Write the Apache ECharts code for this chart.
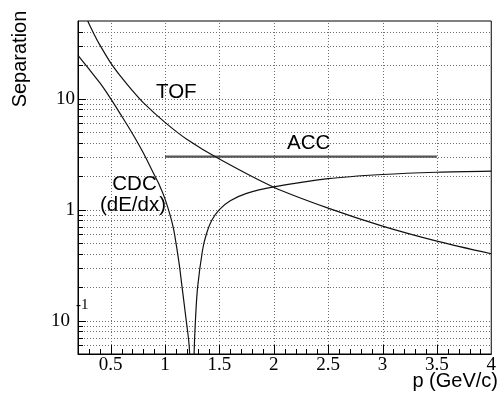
<!DOCTYPE html>
<html><head><meta charset="utf-8">
<script src="https://cdn.jsdelivr.net/npm/echarts@6/dist/echarts.min.js"></script>
<style>html,body{margin:0;padding:0;background:#fff}#c{width:499px;height:394px}</style>
</head><body><div id="c"></div>
<script>
// ---- axis ranges ----
const X_MIN = 0.2, X_MAX = 4, Y_MIN = 0.05, Y_MAX = 50;

// ---- TOF separation ----
const tofP = [0.29, 0.30, 0.35, 0.40, 0.50, 0.60, 0.70, 0.80, 1.00, 1.20, 1.50, 2.00, 2.50, 3.00, 3.50, 4.00];
const tofS = [50, 47.4, 37.6, 30.5, 21.0, 15.5, 11.8, 9.2, 6.1, 4.3, 2.85, 1.59, 1.03, 0.71, 0.52, 0.40];

// ---- CDC dE/dx separation ----
const cdcP = [0.20, 0.30, 0.40, 0.50, 0.60, 0.70, 0.80, 0.90, 0.95, 1.00, 1.05, 1.08, 1.11, 1.135, 1.157, 1.19, 1.225, 1.258, 1.268, 1.282, 1.30, 1.345, 1.38, 1.43, 1.50, 1.60, 1.75, 2.00, 2.50, 3.00, 3.50, 4.00];
const cdcS = [24.5, 18.5, 13.9, 10.0, 7.0, 4.85, 3.25, 2.07, 1.65, 1.25, 0.87, 0.66, 0.44, 0.30, 0.20, 0.11, 0.054, 0.002, 0.05, 0.11, 0.20, 0.43, 0.60, 0.80, 1.00, 1.20, 1.40, 1.60, 1.90, 2.07, 2.17, 2.22];

// ---- ACC separation ----
const accP = [1.0, 3.5];
const accS = [3.0, 3.0];

// ---- tick / grid values ----
const xMajor = [0.5, 1.0, 1.5, 2.0, 2.5, 3.0, 3.5];
const xLabels = ['0.5', '1', '1.5', '2', '2.5', '3', '3.5', '4'];
const xMinor = [];
for (let k = 3; k < 40; k++) { if (k % 5 !== 0) xMinor.push(k / 10); }
const yMajor = [0.1, 1, 10];
const yMinor = [];
[0.01, 0.1, 1, 10].forEach(d => { for (let m = 2; m <= 9; m++) { const v = +(m * d).toPrecision(3); if (v > Y_MIN && v < Y_MAX) yMinor.push(v); } });
const yGrid = yMinor.concat(yMajor);

const crisp = v => Math.round(v) + 0.5;
const GRID_STYLE = { stroke: '#6e6e6e', lineWidth: 1, lineDash: [1, 2] };

const chart = echarts.init(document.getElementById('c'), null, { renderer: 'canvas' });

const option = {
  animation: false,
  backgroundColor: '#fff',
  grid: { left: 78, right: 4, top: 21, bottom: 40, show: true, borderColor: '#000', borderWidth: 1, backgroundColor: 'transparent' },
  xAxis: {
    type: 'value', min: X_MIN, max: X_MAX, interval: 0.1,
    axisLine: { show: true, onZero: false, lineStyle: { color: '#000', width: 1 } },
    axisTick: { show: false }, splitLine: { show: false },
    axisLabel: {
      margin: 2, color: '#000', fontFamily: 'Liberation Serif', fontSize: 19,
      formatter: v => { const r = Math.round(v * 10); return (r % 5 === 0 && r >= 5) ? xLabels[r / 5 - 1] : ''; }
    }
  },
  yAxis: {
    type: 'log', logBase: 10, min: Y_MIN, max: Y_MAX, splitNumber: 6,
    axisLine: { show: true, onZero: false, lineStyle: { color: '#000', width: 1 } },
    axisTick: { show: false }, splitLine: { show: false },
    axisLabel: {
      margin: 3, color: '#000', fontFamily: 'Liberation Serif', fontSize: 19,
      formatter: v => {
        const l = Math.log10(v), r = Math.round(l);
        if (Math.abs(l - r) > 1e-6) return '';
        if (r === 1) return '10';
        if (r === 0) return '1';
        if (r === -1) return '{m|10}';
        return '';
      },
      rich: { m: { fontFamily: 'Liberation Serif', fontSize: 19, color: '#000', padding: [0, 5, 0, 0] } }
    }
  },
  series: [
    { // horizontal grid
      type: 'custom', coordinateSystem: 'cartesian2d', silent: true, z: 1,
      data: yGrid.map(v => [X_MIN, v]),
      renderItem(params, api) {
        const v = api.value(1);
        const a = api.coord([X_MIN, v]), b = api.coord([X_MAX, v]);
        const y = crisp(a[1]);
        return { type: 'line', shape: { x1: a[0], y1: y, x2: b[0], y2: y }, style: GRID_STYLE };
      }
    },
    { // vertical grid
      type: 'custom', coordinateSystem: 'cartesian2d', silent: true, z: 1,
      data: xMajor.map(v => [v, Y_MIN]),
      renderItem(params, api) {
        const v = api.value(0);
        const a = api.coord([v, Y_MIN]), b = api.coord([v, Y_MAX]);
        const x = crisp(a[0]);
        return { type: 'line', shape: { x1: x, y1: a[1], x2: x, y2: b[1] }, style: GRID_STYLE };
      }
    },
    { // y ticks
      type: 'custom', coordinateSystem: 'cartesian2d', silent: true, z: 3,
      data: yMinor.map(v => [X_MIN, v, 5]).concat(yMajor.map(v => [X_MIN, v, 8])),
      renderItem(params, api) {
        const a = api.coord([X_MIN, api.value(1)]);
        const y = crisp(a[1]), len = api.value(2);
        return { type: 'line', shape: { x1: a[0], y1: y, x2: a[0] + len, y2: y }, style: { stroke: '#000', lineWidth: 1 } };
      }
    },
    { // x ticks
      type: 'custom', coordinateSystem: 'cartesian2d', silent: true, z: 3,
      data: xMinor.map(v => [v, Y_MIN, 5]).concat(xMajor.map(v => [v, Y_MIN, 9])),
      renderItem(params, api) {
        const a = api.coord([api.value(0), Y_MIN]);
        const x = crisp(a[0]), len = api.value(2);
        return { type: 'line', shape: { x1: x, y1: a[1], x2: x, y2: a[1] - len }, style: { stroke: '#000', lineWidth: 1 } };
      }
    },
    {
      name: 'TOF', type: 'line', z: 5, smooth: 0.3, symbol: 'none', clip: true,
      data: tofP.map((p, i) => [p, tofS[i]]),
      lineStyle: { color: '#111', width: 1.2 }
    },
    {
      name: 'CDC', type: 'line', z: 5, smooth: 0.3, symbol: 'none', clip: true,
      data: cdcP.map((p, i) => [p, cdcS[i]]),
      lineStyle: { color: '#111', width: 1.2 }
    },
    {
      name: 'ACC', type: 'line', z: 4, symbol: 'none', clip: true,
      data: accP.map((p, i) => [p, accS[i]]),
      lineStyle: { color: '#555', width: 2.2 }
    }
  ]
};
chart.setOption(option);

const SANS = '"Liberation Sans", Arial, sans-serif';
const txt = (text, x, y, align, size, extra) => Object.assign({
  type: 'text', x, y, silent: true, z: 10,
  style: { text, fill: '#000', font: size + 'px ' + SANS, align, verticalAlign: 'middle', textAlign: align, textVerticalAlign: 'middle' }
}, extra || {});

const sup = chart.convertToPixel({ xAxisIndex: 0, yAxisIndex: 0 }, [X_MIN, 0.1]);
chart.setOption({
  graphic: [
    txt('Separation', 20, 59, 'center', 20, { rotation: Math.PI / 2 }),
    txt('p (GeV/c)', 498, 381, 'right', 20),
    txt('TOF', 156, 92, 'left', 20.5),
    txt('ACC', 287, 143.5, 'left', 20.5),
    txt('CDC', 134.5, 184, 'center', 20.5),
    txt('(dE/dx)', 133, 205, 'center', 20.5),
    { type: 'text', x: sup[0] - 2, y: sup[1] - 16, silent: true, z: 10,
      style: { text: '-1', fill: '#000', font: '15px "Liberation Serif", serif', align: 'left', verticalAlign: 'middle', textAlign: 'left', textVerticalAlign: 'middle' } }
  ]
});
</script>
</body></html>
